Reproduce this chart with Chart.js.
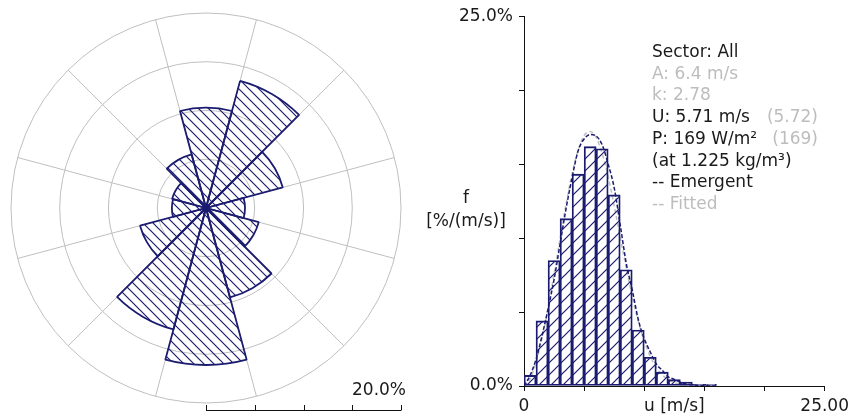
<!DOCTYPE html>
<html><head><meta charset="utf-8">
<script src="https://cdn.jsdelivr.net/npm/chart.js@4.4.0/dist/chart.umd.min.js"></script>
<style>
html,body{margin:0;padding:0;background:#fff;overflow:hidden;width:854px;height:415px}
#rose{position:absolute;left:0;top:0}
#hist{position:absolute;left:420px;top:0}
</style></head><body>
<canvas id="rose" width="420" height="415"></canvas>
<canvas id="hist" width="434" height="415"></canvas>
<script>
// ---------- data ----------
const sectors = ['0°','30°','60°','90°','120°','150°','180°','210°','240°','270°','300°','330°'];
const sectorFreq = [10.3, 13.5, 8.15, 4.0, 5.6, 9.5, 16.1, 12.9, 7.0, 3.5, 3.6, 5.7];
const roseScaleLabel = '20.0%';

const binCentres = [0.5,1.5,2.5,3.5,4.5,5.5,6.5,7.5,8.5,9.5,10.5,11.5,12.5,13.5,14.5,15.5];
const binFreq    = [0.72,4.40,8.48,11.31,14.32,16.18,16.04,12.92,7.86,3.78,1.94,0.94,0.43,0.27,0.11,0.11];

const curveSpeed   = [0,0.5,1,1.5,2,2.5,3,3.5,4,4.5,5,5.5,6,6.5,7,7.5,8,8.5,9,9.5,10,10.5,11,11.5,12,12.5,13,13.5,14,15,16];
const emergentFreq = [0,0.7,1.8,3.4,5.2,7.2,9.6,12.0,14.1,15.9,16.7,17.0,16.9,16.3,15.0,13.4,10.9,8.3,6.5,4.5,3.2,2.3,1.5,1.05,0.62,0.45,0.25,0.15,0.08,0.02,0];
const fittedFreq   = [0,0.46,1.59,3.23,5.27,7.58,9.98,12.31,14.35,15.94,16.92,17.21,16.79,15.72,14.13,12.18,10.06,7.97,6.04,4.37,3.03,2.0,1.26,0.75,0.43,0.23,0.12,0.06,0.03,0.01,0];

const yTickLabels = {0:'0.0%', 25:'25.0%'};
const xTickLabels = {0:'0', 25:'25.00'};
const infoLines = [
  {t:'Sector: All', grey:false},
  {t:'A: 6.4 m/s', grey:true},
  {t:'k: 2.78', grey:true},
  {t:'U: 5.71 m/s', grey:false, extra:'(5.72)'},
  {t:'P: 169 W/m²', grey:false, extra:'(169)'},
  {t:'(at 1.225 kg/m³)', grey:false},
  {t:'-- Emergent', grey:false},
  {t:'-- Fitted', grey:true}
];

// ---------- styles ----------
const NAVY = '#1b1b6f';
const GRID = '#bfbfbf';
const TXT = '#1a1a1a';
const GREYTXT = '#bdbdbd';
const FONT = 'DejaVu Sans';
Chart.defaults.font.family = FONT;
Chart.defaults.font.size = 17;
Chart.defaults.color = TXT;

function hatch(ctx, size, dir, color, lw) {
  const c = document.createElement('canvas'); c.width = size; c.height = size;
  const g = c.getContext('2d');
  g.strokeStyle = color; g.lineWidth = lw;
  g.beginPath();
  if (dir === '/') {
    g.moveTo(-1, size + 1); g.lineTo(size + 1, -1);
    g.moveTo(-1, 1); g.lineTo(1, -1);
    g.moveTo(size - 1, size + 1); g.lineTo(size + 1, size - 1);
  } else {
    g.moveTo(-1, -1); g.lineTo(size + 1, size + 1);
    g.moveTo(size - 1, -1); g.lineTo(size + 1, 1);
    g.moveTo(-1, size - 1); g.lineTo(1, size + 1);
  }
  g.stroke();
  return ctx.createPattern(c, 'repeat');
}

// ---------- wind rose ----------
const roseCtx = document.getElementById('rose').getContext('2d');
const scaleBar = {
  id: 'scaleBar',
  afterDraw(chart) {
    const s = chart.scales.r, ctx = chart.ctx;
    const y = 410, x0 = s.xCenter;
    ctx.save();
    ctx.strokeStyle = '#111'; ctx.lineWidth = 1;
    ctx.beginPath();
    ctx.moveTo(x0, y + 0.5); ctx.lineTo(x0 + s.getDistanceFromCenterForValue(20), y + 0.5);
    for (const v of [0,5,10,15,20]) {
      const x = Math.round(x0 + s.getDistanceFromCenterForValue(v)) + 0.5;
      ctx.moveTo(x, y + 0.5); ctx.lineTo(x, y - 5);
    }
    ctx.stroke();
    ctx.fillStyle = TXT; ctx.font = '17px "' + FONT + '"';
    ctx.textAlign = 'right'; ctx.textBaseline = 'alphabetic';
    ctx.fillText(roseScaleLabel, 406, 395);
    ctx.restore();
  }
};
new Chart(roseCtx, {
  type: 'polarArea',
  data: { labels: sectors, datasets: [{
    data: sectorFreq,
    backgroundColor: hatch(roseCtx, 10, '\\', NAVY, 1.2),
    borderColor: NAVY, borderWidth: 1.8
  }]},
  options: {
    responsive: false, animation: false, devicePixelRatio: 1,
    layout: { padding: { left: 11, top: 13, right: 19, bottom: 12 } },
    plugins: { legend: { display: false }, tooltip: { enabled: false } },
    scales: { r: {
      min: 0, max: 20, startAngle: -15,
      ticks: { display: false, stepSize: 5 },
      grid: { color: GRID, lineWidth: 1 },
      angleLines: { display: true, color: GRID, lineWidth: 1 },
      pointLabels: { display: false }
    }}
  },
  plugins: [scaleBar]
});

// ---------- histogram ----------
const histCtx = document.getElementById('hist').getContext('2d');
const pts = (xs, ys) => xs.map((x, i) => ({ x, y: ys[i] }));
const histText = {
  id: 'histText',
  afterDraw(chart) {
    const ctx = chart.ctx, xs = chart.scales.x;
    ctx.save();
    ctx.font = '17px "' + FONT + '"';
    ctx.textBaseline = 'alphabetic';
    ctx.fillStyle = TXT; ctx.textAlign = 'center';
    ctx.fillText('f', 46, 203);
    ctx.fillText('[%/(m/s)]', 46, 226);
    ctx.fillText('u [m/s]', xs.getPixelForValue(12.5), 411);
    let y = 57;
    for (const l of infoLines) {
      ctx.textAlign = 'left';
      ctx.fillStyle = l.grey ? GREYTXT : TXT;
      ctx.fillText(l.t, 232, y);
      if (l.extra) {
        ctx.textAlign = 'right'; ctx.fillStyle = GREYTXT;
        ctx.fillText(l.extra, 398, y);
      }
      y += 21.7;
    }
    ctx.restore();
  }
};
const axisCommon = {
  type: 'linear', min: 0, max: 25, offset: false,
  grid: { drawOnChartArea: false, drawTicks: true, tickLength: 5, color: '#111', lineWidth: 1, offset: false },
  border: { color: '#111', width: 1 }
};
new Chart(histCtx, {
  type: 'bar',
  data: { datasets: [
    { type: 'line', data: pts(curveSpeed, fittedFreq), borderColor: GRID, borderWidth: 1.5, borderDash: [4, 3],
      pointRadius: 0, cubicInterpolationMode: 'monotone', order: 4 },
    { type: 'bar', data: pts(binCentres, binFreq), backgroundColor: hatch(histCtx, 12, '/', NAVY, 1.2),
      borderColor: NAVY, borderWidth: 1.2, borderSkipped: false, barPercentage: 1, categoryPercentage: 1, order: 3 },
    { type: 'line', data: pts(curveSpeed, emergentFreq), borderColor: NAVY, borderWidth: 1.5, borderDash: [4, 2],
      pointRadius: 0, cubicInterpolationMode: 'monotone', order: 1 }
  ]},
  options: {
    responsive: false, animation: false, devicePixelRatio: 1,
    layout: { padding: { left: 0, top: 12, right: 28, bottom: 0 } },
    plugins: { legend: { display: false }, tooltip: { enabled: false } },
    scales: {
      x: Object.assign({}, axisCommon, {
        ticks: { stepSize: 5, autoSkip: false, maxRotation: 0, padding: 5, color: TXT,
                 callback: v => (v in xTickLabels ? xTickLabels[v] : '') },
        afterFit: s => { s.height = 29; }
      }),
      y: Object.assign({}, axisCommon, {
        ticks: { stepSize: 5, padding: 6, color: TXT,
                 callback: v => (v in yTickLabels ? yTickLabels[v] : '') },
        afterFit: s => { s.width = 104; }
      })
    }
  },
  plugins: [histText]
});
</script>
</body></html>
